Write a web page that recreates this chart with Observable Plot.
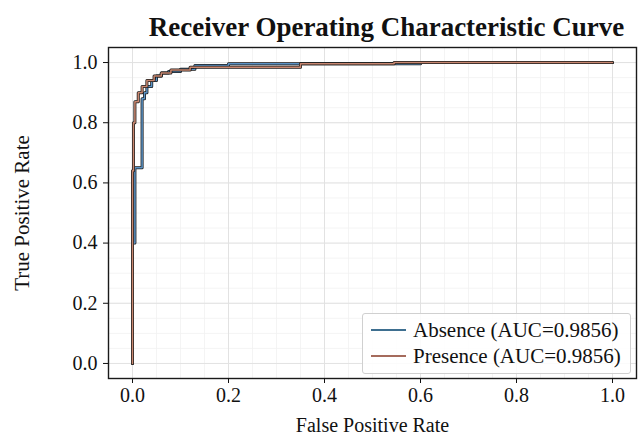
<!DOCTYPE html>
<html><head><meta charset="utf-8">
<script src="https://cdn.jsdelivr.net/npm/d3@7"></script>
<script src="https://cdn.jsdelivr.net/npm/@observablehq/plot@0.6"></script>
<style>
body{margin:0;background:#fff;}
#wrap{position:relative;width:640px;height:439px;font-family:"Liberation Serif","Times New Roman",serif;}
#legend{position:absolute;left:362px;top:313px;width:269px;height:61px;box-sizing:border-box;border:1px solid #d0d0d0;border-radius:3px;background:rgba(255,255,255,0.85);font-size:21px;color:#111;}
.item{position:absolute;left:0;height:24px;line-height:24px;white-space:nowrap;}
.sw{position:absolute;left:8px;top:11px;width:35px;height:2px;}
.lab{position:absolute;left:50px;top:0;}
</style></head><body><div id="wrap"></div>
<script>
const seriesNames = ["Absence", "Presence"];
const aucValues = [0.9856, 0.9856];
const absenceFPR = [0, 0, 0.005, 0.005, 0.02, 0.02, 0.025, 0.025, 0.03, 0.03, 0.04, 0.04, 0.05, 0.05, 0.06, 0.06, 0.075, 0.075, 0.1, 0.1, 0.13, 0.13, 0.2, 0.2, 0.6, 0.6, 1.0];
const absenceTPR = [0, 0.40, 0.40, 0.65, 0.65, 0.88, 0.88, 0.90, 0.90, 0.92, 0.92, 0.94, 0.94, 0.955, 0.955, 0.965, 0.965, 0.97, 0.97, 0.978, 0.978, 0.99, 0.99, 0.996, 0.996, 1.0, 1.0];
const presenceFPR = [0, 0, 0.002, 0.002, 0.005, 0.005, 0.012, 0.012, 0.02, 0.02, 0.03, 0.03, 0.045, 0.045, 0.06, 0.06, 0.08, 0.08, 0.12, 0.12, 0.35, 0.35, 0.545, 0.545, 1.0];
const presenceTPR = [0, 0.64, 0.64, 0.80, 0.80, 0.87, 0.87, 0.90, 0.90, 0.92, 0.92, 0.94, 0.94, 0.955, 0.955, 0.965, 0.965, 0.975, 0.975, 0.984, 0.984, 0.996, 0.996, 1.0, 1.0];
const tickValues = [0, 0.2, 0.4, 0.6, 0.8, 1.0];
const minorTicks = d3.range(0, 21).map(i => i * 0.05);
const seriesColors = ["#5b93c6", "#c8866f"];
const legendColors = ["#3e6f90", "#a56b5c"];

const absence = absenceFPR.map((x, i) => ({x, y: absenceTPR[i], s: seriesNames[0]}));
const presence = presenceFPR.map((x, i) => ({x, y: presenceTPR[i], s: seriesNames[1]}));

const font = '"Liberation Serif","Times New Roman",serif';
const chart = Plot.plot({
  width: 640, height: 439,
  marginLeft: 108, marginRight: 4, marginTop: 47, marginBottom: 61,
  style: {fontFamily: font, fontSize: "21px", color: "#111", background: "#fff"},
  x: {domain: [-0.05, 1.05]},
  y: {domain: [-0.05, 1.05]},
  marks: [
    Plot.gridX(minorTicks, {stroke: "#f1f1f1", strokeOpacity: 1, strokeWidth: 0.8}),
    Plot.gridY(minorTicks, {stroke: "#f1f1f1", strokeOpacity: 1, strokeWidth: 0.8}),
    Plot.gridX(tickValues, {stroke: "#e2e2e2", strokeOpacity: 1, strokeWidth: 1}),
    Plot.gridY(tickValues, {stroke: "#e2e2e2", strokeOpacity: 1, strokeWidth: 1}),
    Plot.line(absence, {x: "x", y: "y", stroke: "#1a1a1a", strokeWidth: 3}),
    Plot.line(absence, {x: "x", y: "y", stroke: seriesColors[0], strokeWidth: 1.5}),
    Plot.line(presence, {x: "x", y: "y", stroke: "#1a1a1a", strokeWidth: 3}),
    Plot.line(presence, {x: "x", y: "y", stroke: seriesColors[1], strokeWidth: 1.5}),
    Plot.frame({stroke: "#1a1a1a", strokeWidth: 1.4}),
    Plot.axisX(tickValues, {tickFormat: d => d.toFixed(1), tickSize: 5, tickPadding: 4, label: null, fontSize: 20}),
    Plot.axisY(tickValues, {tickFormat: d => d.toFixed(1), tickSize: 5, tickPadding: 6, label: null, fontSize: 20}),
    Plot.text(["False Positive Rate"], {frameAnchor: "bottom", lineAnchor: "middle", dy: 47, fontSize: 20}),
    Plot.text(["True Positive Rate"], {frameAnchor: "left", textAnchor: "middle", dx: -86, rotate: -90, fontSize: 21}),
    Plot.text(["Receiver Operating Characteristic Curve"], {frameAnchor: "top", lineAnchor: "middle", dy: -20, dx: 14, fontSize: 27, fontWeight: "bold"})
  ]
});
const wrap = document.getElementById("wrap");
wrap.appendChild(chart);
const leg = document.createElement("div");
leg.id = "legend";
seriesNames.forEach((n, i) => {
  const it = document.createElement("div");
  it.className = "item";
  it.style.top = (4 + i * 26) + "px";
  it.innerHTML = `<span class="sw" style="background:${legendColors[i]}"></span><span class="lab">${n} (AUC=${aucValues[i].toFixed(4)})</span>`;
  leg.appendChild(it);
});
wrap.appendChild(leg);
</script></body></html>
